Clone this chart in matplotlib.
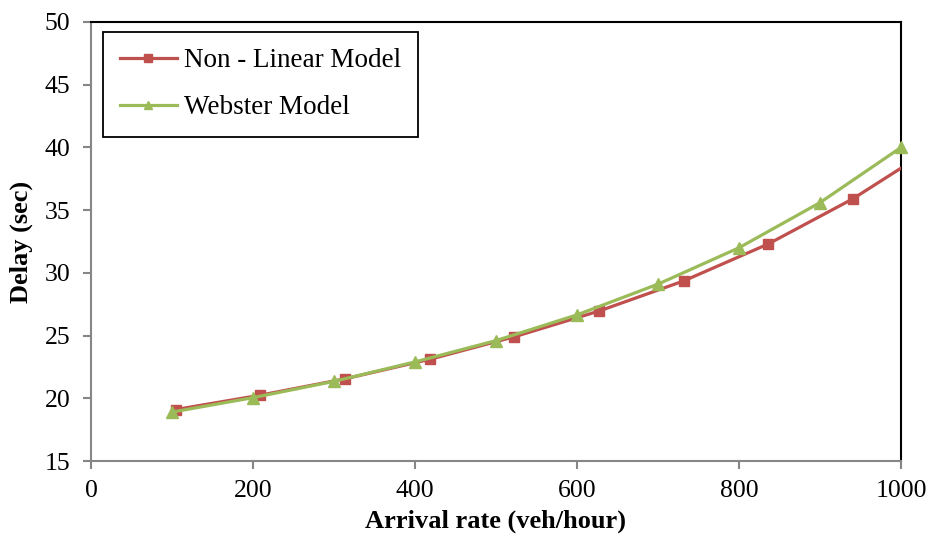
import matplotlib
matplotlib.use('Agg')
import matplotlib.pyplot as plt

plt.rcParams['font.family'] = ['Liberation Serif', 'DejaVu Serif']

# Non - Linear Model (last point lies beyond the x-range and is clipped)
nonlin_x = [104.5, 209, 313.5, 418, 522.5, 627, 731.5, 836, 940.5, 1045]
nonlin_y = [19.1, 20.25, 21.55, 23.1, 24.9, 26.95, 29.35, 32.3, 35.9, 40.2]

# Webster Model
webster_x = [100, 200, 300, 400, 500, 600, 700, 800, 900, 1000]
webster_y = [18.9, 20.05, 21.35, 22.9, 24.6, 26.65, 29.1, 32.0, 35.6, 40.0]

x_ticks = [0, 200, 400, 600, 800, 1000]
y_ticks = [15, 20, 25, 30, 35, 40, 45, 50]

red = '#C0504D'
green = '#9BBB59'
grey = '#868686'

fig = plt.figure(figsize=(9.29, 5.35), dpi=100)
ax = fig.add_axes([91 / 929, 1 - 461 / 535, (901 - 91) / 929, (461 - 22) / 535])

ax.plot(nonlin_x, nonlin_y, color=red, lw=2.3, marker='s', ms=7.5,
        label='Non - Linear Model', zorder=3)
ax.plot(webster_x, webster_y, color=green, lw=2.3, marker='^', ms=9,
        label='Webster Model', zorder=4, clip_on=False)

ax.set_xlim(0, 1000)
ax.set_ylim(15, 50)
ax.set_xticks(x_ticks)
ax.set_yticks(y_ticks)

for side in ['left', 'bottom']:
    ax.spines[side].set_color(grey)
    ax.spines[side].set_linewidth(1.5)
for side in ['top', 'right']:
    ax.spines[side].set_color('black')
    ax.spines[side].set_linewidth(1.5)

ax.tick_params(axis='y', direction='out', color=grey, width=1.5, length=6,
               labelsize=18.5, pad=9)
ax.tick_params(axis='x', direction='out', color=grey, width=1.5, length=6,
               labelsize=18.5, pad=8)

ax.set_xlabel('Arrival rate (veh/hour)', fontsize=19, fontweight='bold', labelpad=5)
ax.set_ylabel('Delay (sec)', fontsize=19, fontweight='bold', labelpad=8)

leg = ax.legend(loc='upper left', bbox_to_anchor=(0.015, 0.978), fontsize=19.5,
                fancybox=False, edgecolor='black', framealpha=1,
                handlelength=2.1, handletextpad=0.25, labelspacing=0.8,
                borderpad=0.62, borderaxespad=0, markerscale=0.7)
leg.get_frame().set_linewidth(1.3)

fig.savefig('out.png', dpi=100)
